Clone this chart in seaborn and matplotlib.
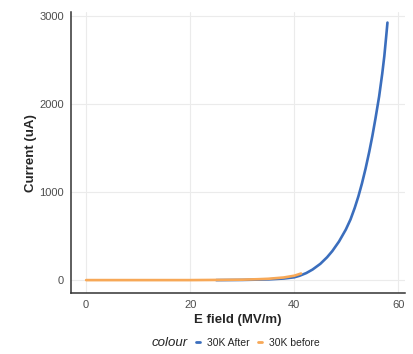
import numpy as np
import pandas as pd
import matplotlib
matplotlib.use("Agg")
import matplotlib.pyplot as plt
import seaborn as sns

# Data
after_x = [25, 30, 35, 38, 40, 41.0, 42.3, 43.5, 45.0, 46.3, 47.3, 48.6, 49.9, 50.8,
           51.6, 52.3, 53.0, 53.7, 54.4, 55.0, 55.6, 56.3, 56.9, 57.3, 57.7, 57.9]
after_y = [0, 2, 8, 18, 32, 49, 80, 120, 185, 260, 330, 440, 575, 690,
           820, 950, 1100, 1270, 1460, 1640, 1840, 2090, 2350, 2550, 2800, 2930]
before_x = [0, 10, 20, 25, 30, 33, 35, 38, 40, 41.3]
before_y = [0, 0, 0, 2, 5, 10, 15, 30, 50, 75]
series_names = ["30K After", "30K before"]
palette = {"30K After": "#3B6EBD", "30K before": "#F7A857"}

df = pd.concat([
    pd.DataFrame({"E": after_x, "I": after_y, "colour": series_names[0]}),
    pd.DataFrame({"E": before_x, "I": before_y, "colour": series_names[1]}),
], ignore_index=True)

sns.set_style("white")
plt.rcParams['font.family'] = ['Liberation Sans', 'DejaVu Sans']

fig = plt.figure(figsize=(4.13, 3.54), dpi=100)
ax = fig.add_axes([0.172, 0.172, 0.809, 0.794])

sns.lineplot(data=df, x="E", y="I", hue="colour", palette=palette,
             linewidth=1.9, sort=False, ax=ax, legend=False)
for ln in ax.lines:
    ln.set_solid_capstyle("round")
    ln.set_solid_joinstyle("round")

ax.set_xlim(-2.9, 61.3)
ax.set_ylim(-148, 3050)
ax.set_xticks([0, 20, 40, 60])
ax.set_yticks([0, 1000, 2000, 3000])
ax.grid(True, color="#EBEBEB", linewidth=0.8)
ax.set_axisbelow(True)
for s in ["top", "right"]:
    ax.spines[s].set_visible(False)
for s in ["left", "bottom"]:
    ax.spines[s].set_color("#333333")
    ax.spines[s].set_linewidth(1.1)
ax.tick_params(axis="both", colors="#333333", labelcolor="#4D4D4D",
               labelsize=8, length=3, width=0.8, direction="out", pad=2)
ax.set_xlabel("E field (MV/m)", fontsize=9.5, fontweight="bold", labelpad=3)
ax.set_ylabel("Current (uA)", fontsize=9.5, fontweight="bold", labelpad=2)

fig.text(188 / 413, 0.032, "colour", fontsize=9.5, fontstyle="italic", ha="right", va="center")
handles = [plt.Line2D([], [], color=palette[n], linewidth=2) for n in series_names]
fig.legend(handles, series_names, loc="center left", bbox_to_anchor=(196 / 413, 0.032),
           ncol=2, frameon=False, fontsize=7.5, handlelength=0.35,
           columnspacing=0.85, handletextpad=0.7, borderaxespad=0, borderpad=0)

fig.savefig("out.png", dpi=100)
